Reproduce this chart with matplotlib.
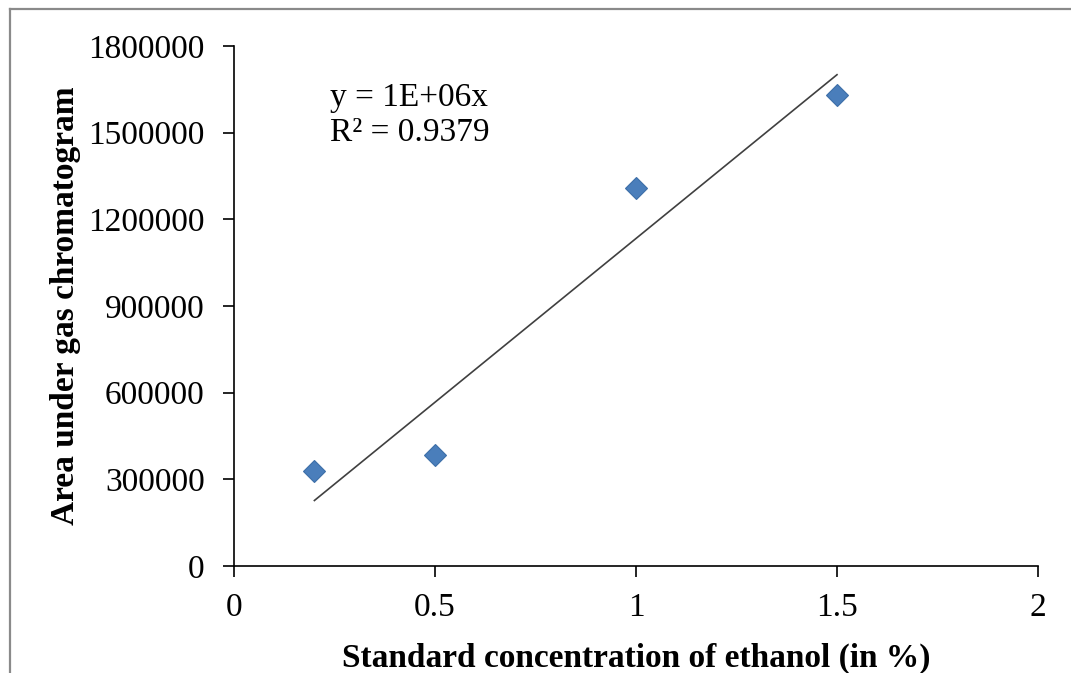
import numpy as np
import matplotlib.pyplot as plt
from matplotlib.lines import Line2D

conc = [0.2, 0.5, 1.0, 1.5]
area = [330000, 385000, 1310000, 1630000]
xticks = [0, 0.5, 1, 1.5, 2]
yticks = [0, 300000, 600000, 900000, 1200000, 1500000, 1800000]

plt.rcParams['font.family'] = ['Liberation Serif', 'DejaVu Serif']

x = np.array(conc)
y = np.array(area)
# linear trendline forced through origin (Excel style)
slope = np.sum(x * y) / np.sum(x * x)
xfit = np.array([x.min(), x.max()])

fig = plt.figure(figsize=(10.71, 6.73), dpi=100)
ax = fig.add_axes([234 / 1071, 107 / 673, 804 / 1071, 520 / 673])

ax.plot(conc, area, ls='none', marker='D', ms=11, color='#4A7EBB',
        mec='#3D6FA8', mew=0.8, zorder=3)
ax.plot(xfit, slope * xfit, color='#404040', lw=1.2)

ax.set_xlim(0, 2)
ax.set_ylim(0, 1800000)
ax.set_xticks(xticks)
ax.set_xticklabels(['0', '0.5', '1', '1.5', '2'])
ax.set_yticks(yticks)
ax.set_yticklabels([str(v) for v in yticks])
ax.tick_params(direction='out', length=8, width=1.2, labelsize=24, pad=11)
ax.tick_params(axis='y', pad=13)
for s in ['top', 'right']:
    ax.spines[s].set_visible(False)
for s in ['left', 'bottom']:
    ax.spines[s].set_linewidth(1.2)

ax.set_xlabel('Standard concentration of ethanol (in %)', fontsize=24,
              fontweight='bold', labelpad=14)
ax.set_ylabel('Area under gas chromatogram', fontsize=24,
              fontweight='bold', labelpad=5)

ax.text(0.24, 1622000, 'y = 1E+06x', fontsize=24, va='center', ha='left')
ax.text(0.24, 1501000, 'R\u00b2 = 0.9379', fontsize=24, va='center', ha='left')

# chart frame (cropped screenshot border)
fig.add_artist(Line2D([10 / 1071, 1.1], [1 - 9 / 673, 1 - 9 / 673],
                      transform=fig.transFigure, color='#8a8a8a', lw=1.6))
fig.add_artist(Line2D([10 / 1071, 10 / 1071], [-0.1, 1 - 9 / 673],
                      transform=fig.transFigure, color='#8a8a8a', lw=1.6))

fig.savefig('out.png', dpi=100)
